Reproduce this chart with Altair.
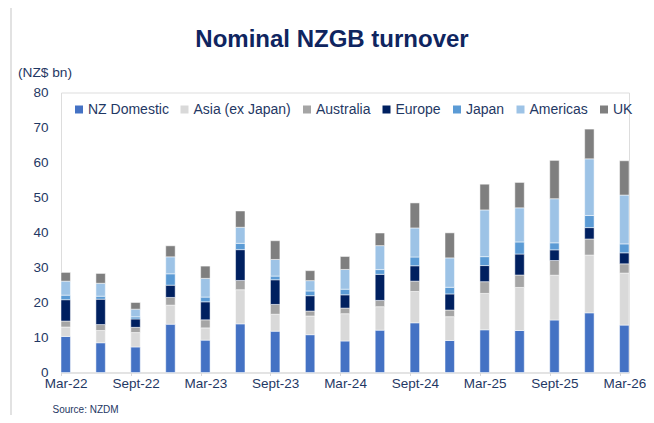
import altair as alt
import pandas as pd

quarters = ["Mar-22", "Jun-22", "Sept-22", "Dec-22", "Mar-23", "Jun-23", "Sept-23", "Dec-23",
            "Mar-24", "Jun-24", "Sept-24", "Dec-24", "Mar-25", "Jun-25", "Sept-25", "Dec-25", "Mar-26"]
tick_labels = ["Mar-22", "Sept-22", "Mar-23", "Sept-23", "Mar-24", "Sept-24", "Mar-25", "Sept-25", "Mar-26"]

series = ["NZ Domestic", "Asia (ex Japan)", "Australia", "Europe", "Japan", "Americas", "UK"]
colors = ["#4472C4", "#D9D9D9", "#A5A5A5", "#002060", "#5B9BD5", "#9DC3E6", "#7F7F7F"]

nz_domestic = [10.3, 8.5, 7.3, 13.8, 9.25, 13.9, 11.8, 10.8, 9.0, 12.1, 14.2, 9.15, 12.2, 12.0, 15.0, 17.05, 13.55]
asia_ex_japan = [2.7, 3.5, 4.1, 5.45, 3.5, 9.75, 4.85, 5.35, 7.8, 6.7, 8.95, 6.8, 10.4, 12.3, 12.8, 16.5, 14.85]
australia = [1.7, 1.7, 1.5, 2.2, 2.3, 2.65, 2.8, 1.4, 1.6, 1.8, 2.95, 1.9, 3.35, 3.55, 4.2, 4.6, 2.65]
europe = [6.1, 7.25, 2.4, 3.5, 5.15, 8.8, 7.05, 4.4, 3.8, 7.45, 4.4, 4.6, 4.6, 6.0, 3.05, 3.25, 3.15]
japan = [1.3, 0.85, 0.6, 3.25, 1.35, 1.8, 1.05, 1.35, 1.6, 1.35, 2.5, 1.9, 2.55, 3.45, 2.0, 3.45, 2.55]
americas = [4.0, 3.7, 2.2, 4.85, 5.35, 4.6, 4.75, 2.95, 5.65, 6.85, 8.3, 8.4, 13.35, 9.75, 12.6, 16.2, 13.95]
uk = [2.5, 2.8, 1.9, 3.15, 3.5, 4.65, 5.35, 2.85, 3.7, 3.6, 7.15, 7.15, 7.35, 7.25, 10.95, 8.5, 9.8]

values = [nz_domestic, asia_ex_japan, australia, europe, japan, americas, uk]

rows = []
for si, (name, vals) in enumerate(zip(series, values)):
    for q, v in zip(quarters, vals):
        rows.append({"quarter": q, "region": name, "value": v, "order": si})
df = pd.DataFrame(rows)

FONT = "Liberation Sans"
TEXT = "#1f3864"

bars = alt.Chart(df).mark_bar(stroke="white", strokeWidth=0.5).encode(
    x=alt.X("quarter:N", sort=quarters,
            scale=alt.Scale(paddingInner=0.73, paddingOuter=0),
            axis=alt.Axis(values=tick_labels, labelAngle=0, tickSize=3, tickColor="#d9d9d9",
                          domainColor="#d9d9d9", domainWidth=1, labelPadding=1,
                          tickOffset=-4.7, labelOffset=4.7,
                          labelFont=FONT, labelFontSize=13.5, labelColor=TEXT,
                          title="Source: NZDM", titleFont=FONT, titleFontSize=10,
                          titleFontWeight="normal", titleColor=TEXT, titleAlign="left",
                          titleAnchor="start", titleBaseline="middle",
                          titleX=-9, titleY=36.5)),
    y=alt.Y("value:Q", stack="zero",
            scale=alt.Scale(domain=[0, 80], nice=False),
            axis=alt.Axis(values=list(range(0, 81, 10)), grid=False, domain=False, ticks=False,
                          labelPadding=13, labelFont=FONT, labelFontSize=13.5, labelColor=TEXT,
                          title="(NZ$ bn)", titleAngle=0, titleAlign="left", titleBaseline="alphabetic",
                          titleFont=FONT, titleFontSize=13.7, titleFontWeight="normal",
                          titleColor=TEXT, titleX=-43.5, titleY=-16)),
    color=alt.Color("region:N", scale=alt.Scale(domain=series, range=colors),
                    legend=alt.Legend(orient="none", direction="horizontal", columns=7,
                                      legendX=11, legendY=10, title=None, padding=0,
                                      symbolType="square", symbolSize=64, symbolStrokeWidth=0,
                                      labelFont=FONT, labelFontSize=14, labelColor=TEXT,
                                      labelOffset=2, columnPadding=8.5)),
    order=alt.Order("order:Q", sort="ascending"),
)

border = alt.Chart(pd.DataFrame({"a": [0]})).mark_rule(color="#d9d9d9", strokeWidth=1.5).encode(
    x=alt.value(-50), y=alt.value(-84.5), y2=alt.value(322.5)
)

chart = alt.layer(border, bars).properties(
    width=568, height=280,
    title=alt.TitleParams("Nominal NZGB turnover", font=FONT, fontSize=24, fontWeight="bold",
                          color="#0f2560", anchor="middle", frame="group", dx=-13, dy=49),
    autosize=alt.AutoSizeParams(type="none"),
    padding={"left": 53, "top": 84.5, "right": 17, "bottom": 42.5},
).configure_view(stroke=None).configure(background="white")

chart.save("out.html", embed_options={"renderer": "svg", "actions": False})
